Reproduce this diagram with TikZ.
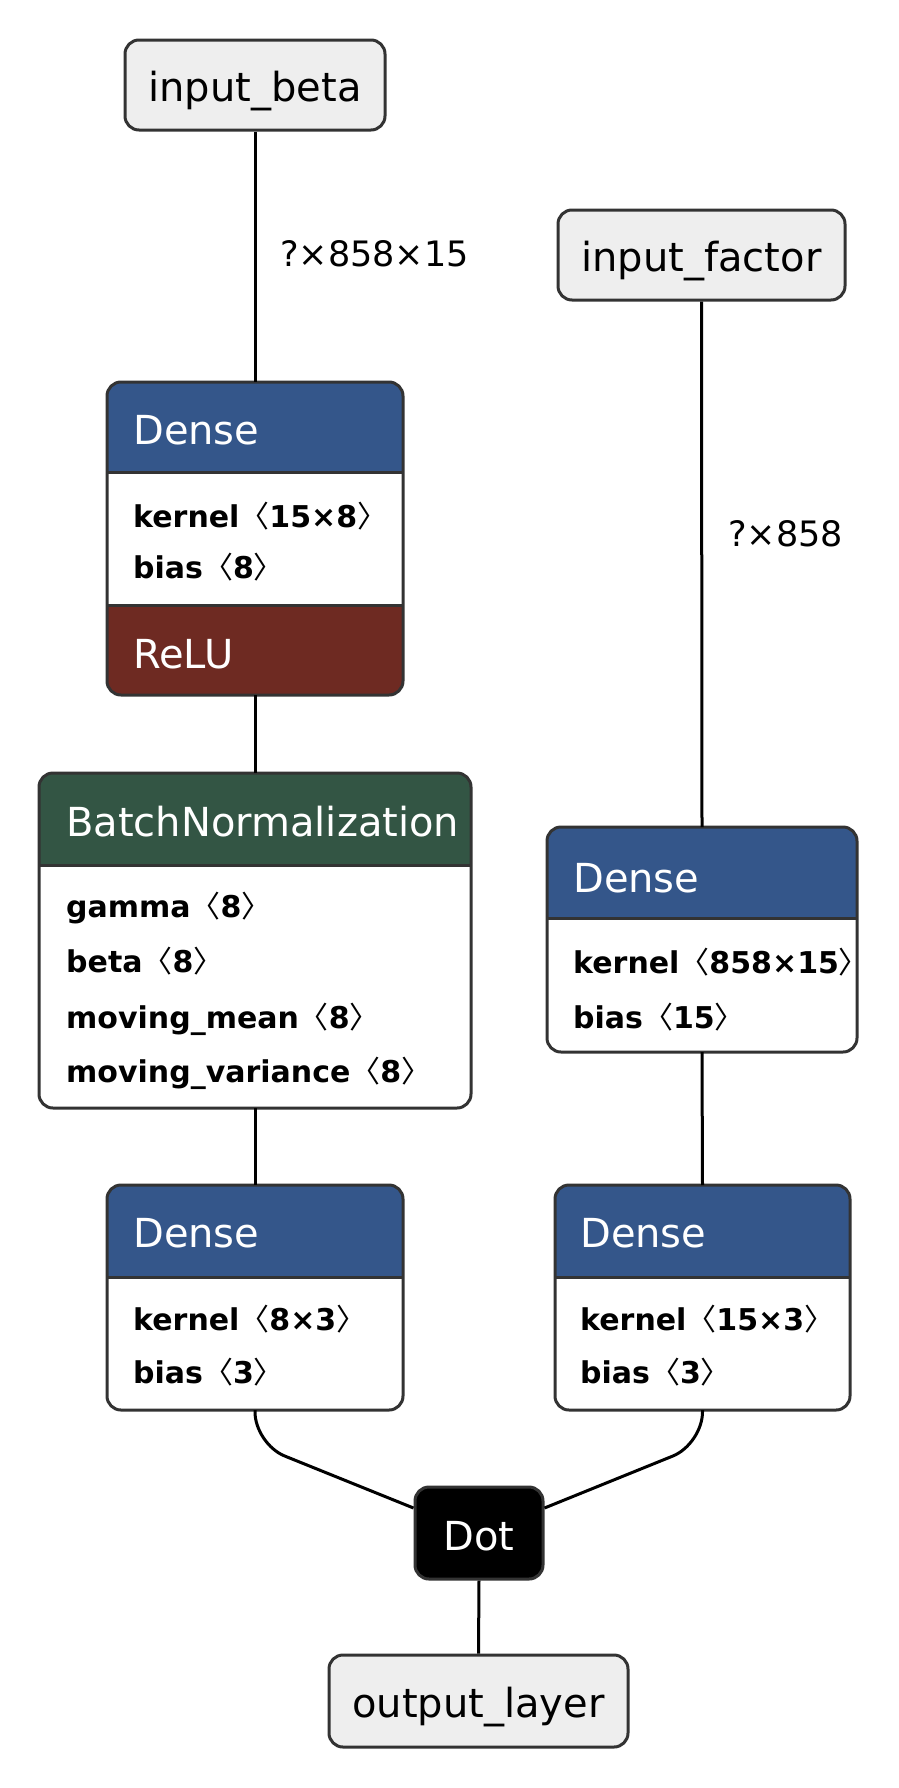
\documentclass[tikz,border=0pt]{standalone}
\usepackage{fontspec}
\setmainfont{DejaVu Sans}
\newfontfamily\cjk{Noto Sans CJK SC}
\usetikzlibrary{calc}
\definecolor{densec}{HTML}{34568A}
\definecolor{reluc}{HTML}{6E2A22}
\definecolor{bnc}{HTML}{335544}
\definecolor{bordc}{HTML}{333333}
\definecolor{iogray}{HTML}{EEEEEE}
\tikzset{
  conn/.style={line width=3pt, black},
  bord/.style={line width=3pt, draw=bordc, rounded corners=14pt},
  shell/.style={rectangle, inner sep=0pt, outer sep=0pt},
  sep/.style={line width=3pt, draw=bordc},
  hdr/.style={anchor=base west, text=white, inner sep=0pt, font=\fontsize{40}{46}\selectfont},
  prm/.style={anchor=base west, inner sep=0pt, font=\bfseries\fontsize{30}{34}\selectfont},
  io/.style={rectangle, draw=bordc, line width=3pt, fill=iogray, rounded corners=14pt, inner sep=0pt},
  iotxt/.style={anchor=base, inner sep=0pt, font=\fontsize{40}{46}\selectfont},
  elab/.style={anchor=base west, inner sep=0pt, font=\fontsize{35}{42}\selectfont}
}
\newcommand{\lbk}{{\cjk\mdseries 〈}}
\newcommand{\rbk}{{\cjk\mdseries 〉}}
\begin{document}
\begin{tikzpicture}[x=1pt,y=-1pt]
\useasboundingbox[fill=white] (0,0) rectangle (898,1788);

% input nodes
\node[io, minimum width=260pt, minimum height=90pt] (ib) at (255,85) {};
\node[iotxt] (ibt) at (255,101) {input\_beta};
\node[io, minimum width=287pt, minimum height=90pt] (if) at (701.5,255) {};
\node[iotxt] (ift) at (701.5,271) {input\_factor};

% Dense 1 + ReLU
\node[shell, minimum width=296pt, minimum height=313pt] (d1) at (255,538.5) {};
\begin{scope}
\clip[rounded corners=14pt] (d1.north west) rectangle (d1.south east);
\fill[densec] (d1.north west) rectangle (403,472);
\fill[reluc] (107,605) rectangle (d1.south east);
\end{scope}
\draw[sep] (107,472) -- (403,472);
\draw[sep] (107,605) -- (403,605);
\draw[bord] (d1.north west) rectangle (d1.south east);
\node[hdr] (d1h) at (133,444) {Dense};
\node[prm] (d1k) at (133,527) {kernel\lbk 15×8\rbk};
\node[prm] (d1b) at (133,578) {bias\lbk 8\rbk};
\node[hdr] (d1r) at (133,668) {ReLU};

% BatchNormalization
\node[shell, minimum width=432pt, minimum height=335pt] (bn) at (255,940.5) {};
\begin{scope}
\clip[rounded corners=14pt] (bn.north west) rectangle (bn.south east);
\fill[bnc] (bn.north west) rectangle (471,865);
\end{scope}
\draw[sep] (39,865) -- (471,865);
\draw[bord] (bn.north west) rectangle (bn.south east);
\node[hdr] (bnh) at (66,836) {BatchNormalization};
\node[prm] (bng) at (66,917) {gamma\lbk 8\rbk};
\node[prm] (bnb) at (66,972) {beta\lbk 8\rbk};
\node[prm] (bnm) at (66,1028) {moving\_mean\lbk 8\rbk};
\node[prm] (bnv) at (66,1082) {moving\_variance\lbk 8\rbk};

% Dense 2 (right)
\node[shell, minimum width=310pt, minimum height=225pt] (d2) at (702,939.5) {};
\begin{scope}
\clip[rounded corners=14pt] (d2.north west) rectangle (d2.south east);
\fill[densec] (d2.north west) rectangle (857,918);
\node[prm] (d2k) at (573,973) {kernel\lbk 858×15\rbk};
\end{scope}
\draw[sep] (547,918) -- (857,918);
\draw[bord] (d2.north west) rectangle (d2.south east);
\node[hdr] (d2h) at (573,892) {Dense};
\node[prm] (d2b) at (573,1028) {bias\lbk 15\rbk};

% Dense 3 (bottom left)
\node[shell, minimum width=296pt, minimum height=225pt] (d3) at (255,1297.5) {};
\begin{scope}
\clip[rounded corners=14pt] (d3.north west) rectangle (d3.south east);
\fill[densec] (d3.north west) rectangle (403,1277);
\end{scope}
\draw[sep] (107,1277) -- (403,1277);
\draw[bord] (d3.north west) rectangle (d3.south east);
\node[hdr] (d3h) at (133,1247) {Dense};
\node[prm] (d3k) at (133,1330) {kernel\lbk 8×3\rbk};
\node[prm] (d3b) at (133,1383) {bias\lbk 3\rbk};

% Dense 4 (bottom right)
\node[shell, minimum width=295pt, minimum height=225pt] (d4) at (702.5,1297.5) {};
\begin{scope}
\clip[rounded corners=14pt] (d4.north west) rectangle (d4.south east);
\fill[densec] (d4.north west) rectangle (850,1277);
\end{scope}
\draw[sep] (555,1277) -- (850,1277);
\draw[bord] (d4.north west) rectangle (d4.south east);
\node[hdr] (d4h) at (580,1247) {Dense};
\node[prm] (d4k) at (580,1330) {kernel\lbk 15×3\rbk};
\node[prm] (d4b) at (580,1383) {bias\lbk 3\rbk};

% Dot and output
\node[io, fill=black, minimum width=128pt, minimum height=92pt] (dot) at (479,1533) {};
\node[iotxt, text=white] (dott) at (479,1550) {Dot};
\node[io, minimum width=299pt, minimum height=92pt] (out) at (478.5,1701) {};
\node[iotxt] (outt) at (478.5,1717) {output\_layer};

% edge labels
\node[elab] (l1) at (280,266) {?×858×15};
\node[elab] (l2) at (728,546) {?×858};

% connectors
\draw[conn] (ib.south) -- (d1.north);
\draw[conn] (if.south) -- (d2.north);
\draw[conn] (d1.south) -- (bn.north);
\draw[conn] (bn.south) -- (d3.north);
\draw[conn] (d2.south) -- (d4.north);
\coordinate (c3) at ($(d3.south)+(0,34)$);
\coordinate (c4) at ($(d4.south)+(0,34)$);
\draw[conn, rounded corners=32pt] (d3.south) -- (c3) -- ($(dot.west)+(0,-25)$);
\draw[conn, rounded corners=32pt] (d4.south) -- (c4) -- ($(dot.east)+(0,-25)$);
\draw[conn] (dot.south) -- (out.north);
\end{tikzpicture}
\end{document}
